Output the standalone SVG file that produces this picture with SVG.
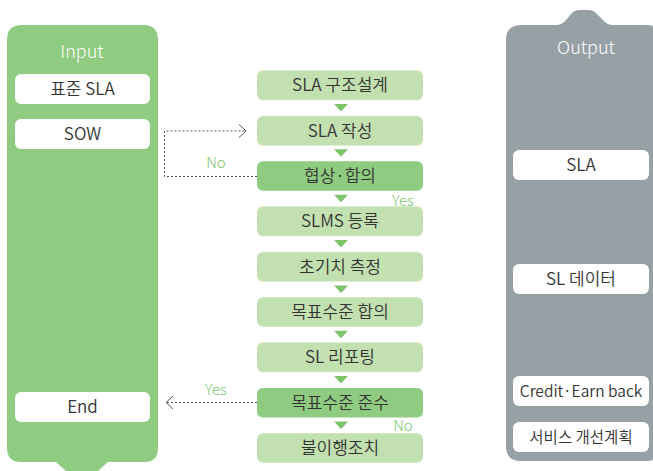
<svg xmlns="http://www.w3.org/2000/svg" width="653" height="471" viewBox="0 0 653 471">
<style>
text{font-family:"Noto Sans CJK KR","Noto Sans",sans-serif;font-weight:350;}
.t{font-size:17px;fill:#333333;text-anchor:middle;}
.s{font-size:15.5px;}
.h{font-size:18px;fill:#ffffff;text-anchor:middle;font-weight:300;}
.lab{font-size:15px;fill:#7ec56e;text-anchor:middle;font-weight:300;}
.wb{fill:#ffffff;}
.lb{fill:#c3e0b0;}
.db{fill:#8fcb80;}
.tri{fill:#7cc46b;}
.dash{fill:none;stroke:#555;stroke-width:1;stroke-dasharray:2,2;}
.chev{fill:none;stroke:#555;stroke-width:1;}
</style>
<rect width="653" height="471" fill="#ffffff"/>
<g id="input-panel">
<path d="M22,25 H143 Q158,25 158,40 V448 Q158,462 144,462 H108 L98,471 H66 L56,462 H21 Q7,462 7,448 V40 Q7,25 22,25 Z" fill="#8fcb80"/>
<text class="h" x="82" y="58">Input</text>
</g>
<g id="in-sla"><rect class="wb" x="15" y="74" width="135" height="30" rx="6"/><text class="t" x="82.5" y="95">표준 SLA</text></g>
<g id="in-sow"><rect class="wb" x="15" y="119" width="135" height="30" rx="6"/><text class="t" x="82.5" y="140">SOW</text></g>
<g id="in-end"><rect class="wb" x="15" y="392" width="135" height="30" rx="6"/><text class="t" x="82.5" y="413">End</text></g>
<g id="output-panel">
<path d="M521,25 H556 Q562,25 566,20 L572,13 Q575,10 580,10 H588 Q593,10 596,13 L603,20 Q607,25 613,25 H646 Q661,25 661,40 V446 Q661,461 646,461 H521 Q506,461 506,446 V40 Q506,25 521,25 Z" fill="#97a0a5"/>
<text class="h" x="586" y="54">Output</text>
</g>
<g id="out-sla"><rect class="wb" x="513" y="150" width="136" height="30" rx="6"/><text class="t" x="581" y="171">SLA</text></g>
<g id="out-sld"><rect class="wb" x="513" y="264" width="136" height="30" rx="6"/><text class="t" x="581" y="285">SL 데이터</text></g>
<g id="out-credit"><rect class="wb" x="513" y="376" width="136" height="30" rx="6"/><text class="t s" x="581" y="397">Credit·Earn back</text></g>
<g id="out-plan"><rect class="wb" x="513" y="422" width="136" height="30" rx="6"/><text class="t s" x="581" y="443">서비스 개선계획</text></g>
<g id="s1"><rect class="lb" x="257" y="70.5" width="166" height="29.5" rx="6"/><text class="t" x="340" y="91">SLA 구조설계</text></g>
<g id="s2"><rect class="lb" x="257" y="116" width="166" height="29.5" rx="6"/><text class="t" x="340" y="136.5">SLA 작성</text></g>
<g id="s3"><rect class="db" x="257" y="161.2" width="166" height="29.5" rx="6"/><text class="t" x="340" y="181.7">협상·합의</text></g>
<g id="s4"><rect class="lb" x="257" y="206.6" width="166" height="29.5" rx="6"/><text class="t" x="340" y="227">SLMS 등록</text></g>
<g id="s5"><rect class="lb" x="257" y="252" width="166" height="29.5" rx="6"/><text class="t" x="340" y="272.5">초기치 측정</text></g>
<g id="s6"><rect class="lb" x="257" y="297.3" width="166" height="29.5" rx="6"/><text class="t" x="340" y="317.8">목표수준 합의</text></g>
<g id="s7"><rect class="lb" x="257" y="342.6" width="166" height="29.5" rx="6"/><text class="t" x="340" y="363.1">SL 리포팅</text></g>
<g id="s8"><rect class="db" x="257" y="388" width="166" height="29.5" rx="6"/><text class="t" x="340" y="408.5">목표수준 준수</text></g>
<g id="s9"><rect class="lb" x="257" y="433.3" width="166" height="29.5" rx="6"/><text class="t" x="340" y="453.8">불이행조치</text></g>
<g id="connectors">
<polygon class="tri" points="334,104 348,104 341,111.5"/>
<polygon class="tri" points="334,149.3 348,149.3 341,156.8"/>
<polygon class="tri" points="334,194.7 348,194.7 341,202.2"/>
<polygon class="tri" points="334,240 348,240 341,247.5"/>
<polygon class="tri" points="334,285.4 348,285.4 341,292.9"/>
<polygon class="tri" points="334,330.7 348,330.7 341,338.2"/>
<polygon class="tri" points="334,376.1 348,376.1 341,383.6"/>
<polygon class="tri" points="334,421.4 348,421.4 341,428.9"/>
<path class="dash" d="M257,176.5 H164.5 V131 H246"/>
<path class="chev" d="M239,124.5 L246,131 L239,137.5"/>
<text class="lab" x="216" y="168">No</text>
<text class="lab" x="403" y="206">Yes</text>
<path class="dash" d="M257,402.5 H166"/>
<path class="chev" d="M173,396 L166,402.5 L173,409"/>
<text class="lab" x="216" y="395">Yes</text>
<text class="lab" x="403" y="431">No</text>
</g>
</svg>
